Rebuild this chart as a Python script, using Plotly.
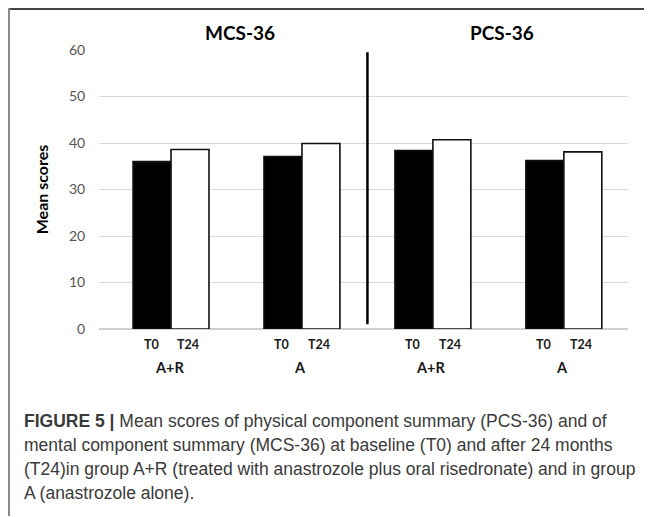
import plotly.graph_objects as go

# ---- data ----
categories = ["MCS A+R", "MCS A", "PCS A+R", "PCS A"]
group_labels = ["A+R", "A", "A+R", "A"]
t0_values = [36.0, 37.1, 38.4, 36.2]
t24_values = [38.6, 39.9, 40.7, 38.1]
time_labels = ["T0", "T24"]
panel_titles = ["MCS-36", "PCS-36"]
y_ticks = [0, 10, 20, 30, 40, 50, 60]
caption_lines = [
    "<b>FIGURE 5 |</b> Mean scores of physical component summary (PCS-36) and of",
    "mental component summary (MCS-36) at baseline (T0) and after 24 months",
    "(T24)in group A+R (treated with anastrozole plus oral risedronate) and in group",
    "A (anastrozole alone).",
]

# page has an 8px body margin -> figure is drawn at (8, 8)
OFF = 8
W, H = 652 - OFF, 517 - OFF
PL, PR, PT, PB = 99, 628, 50, 329          # plot area in page pixels
L, R, T, B = PL - OFF, W - (PR - OFF), PT - OFF, H - (PB - OFF)
PW, PH = W - L - R, H - T - B


def pxp(x):
    return (x - OFF - L) / PW


def pyp(y):
    return (H - B - (y - OFF)) / PH


fig = go.Figure()
fig.add_trace(go.Bar(x=categories, y=t0_values, name=time_labels[0],
                     marker=dict(color="black", line=dict(color="#111", width=1.6))))
fig.add_trace(go.Bar(x=categories, y=t24_values, name=time_labels[1],
                     marker=dict(color="white", line=dict(color="#111", width=1.6))))

annotations = []
small_font = dict(family="Lato", size=12.5, color="#1a1a1a")
for c, g in zip(categories, group_labels):
    annotations.append(dict(x=c, y=0, xref="x", yref="y", text="<b>%s</b>" % time_labels[0],
                            showarrow=False, xshift=-20, yshift=-15, font=small_font))
    annotations.append(dict(x=c, y=0, xref="x", yref="y", text="<b>%s</b>" % time_labels[1],
                            showarrow=False, xshift=17, yshift=-15, font=small_font))
    annotations.append(dict(x=c, y=0, xref="x", yref="y", text="<b>%s</b>" % g,
                            showarrow=False, xshift=-2, yshift=-38,
                            font=dict(family="Lato", size=14.5, color="#1a1a1a")))

for i, t in enumerate(panel_titles):
    annotations.append(dict(x=(2 * i + 0.5), y=pyp(33), xref="x", yref="paper", text="<b>%s</b>" % t,
                            showarrow=False, xshift=4, yanchor="middle",
                            font=dict(family="Lato", size=19, color="black")))

for k, line in enumerate(caption_lines):
    annotations.append(dict(x=pxp(22), y=pyp(421 + 24 * k), xref="paper", yref="paper", text=line,
                            showarrow=False, xanchor="left", yanchor="middle", align="left",
                            font=dict(family="Liberation Sans", size=17.5, color="#3a3a3a")))

shapes = [
    # divider between panels
    dict(type="line", xref="x", yref="y", x0=1.5, x1=1.5, y0=1, y1=59.5,
         line=dict(color="black", width=2.5)),
    # figure frame (top and left edges only), kept inside the figure
    dict(type="line", xref="paper", yref="paper", x0=pxp(8), x1=pxp(651), y0=pyp(9), y1=pyp(9),
         line=dict(color="#444444", width=2)),
    dict(type="line", xref="paper", yref="paper", x0=pxp(9), x1=pxp(9), y0=pyp(8), y1=pyp(516),
         line=dict(color="#8a8a8a", width=2)),
]

fig.update_layout(
    width=W, height=H,
    margin=dict(l=L, r=R, t=T, b=B, autoexpand=False),
    paper_bgcolor="white", plot_bgcolor="white",
    barmode="group", bargap=0.42, bargroupgap=0,
    showlegend=False,
    annotations=annotations,
    shapes=shapes,
    xaxis=dict(range=[-0.55, 3.49], showticklabels=False, ticks="",
               showline=False, showgrid=False, fixedrange=True),
    yaxis=dict(range=[0, 60], tickvals=y_ticks, showgrid=True, gridcolor="#d9d9d9", gridwidth=1,
               zeroline=True, zerolinecolor="#cfcfcf", zerolinewidth=1.5,
               tickfont=dict(family="Lato", size=14, color="#555"),
               ticks="outside", ticklen=10, tickcolor="rgba(0,0,0,0)",
               title=dict(text="<b>Mean scores</b>", font=dict(family="Lato", size=16, color="black"),
                          standoff=16)),
)

fig.write_html("out.html")
